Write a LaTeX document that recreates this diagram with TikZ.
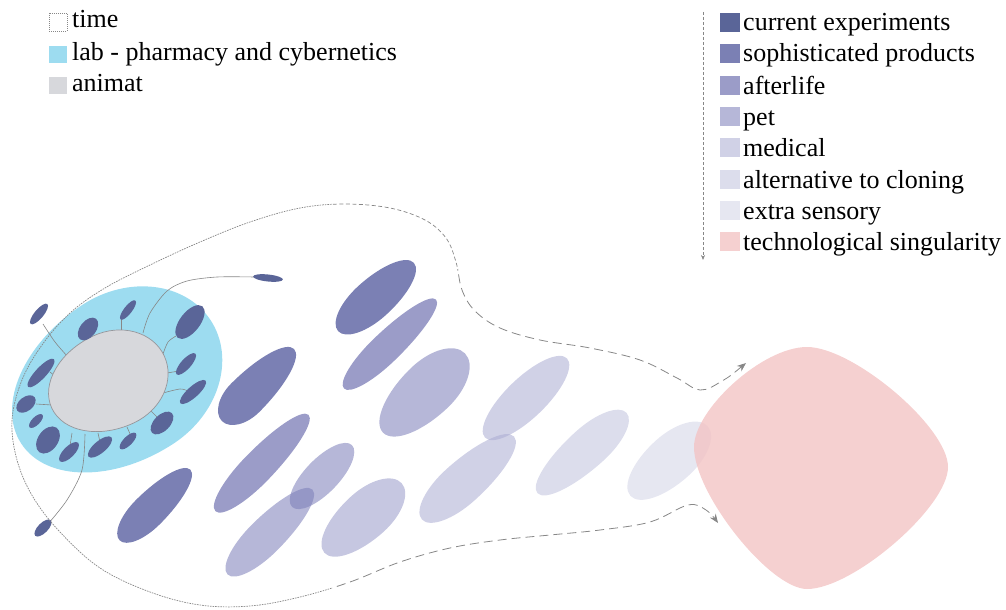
\documentclass[tikz,border=0pt]{standalone}
\usepackage{fontspec}
\setmainfont{Liberation Serif}
\usetikzlibrary{arrows.meta}
\definecolor{cCur}{RGB}{90,101,152}
\definecolor{cSophB}{RGB}{15,24,119}
\definecolor{cAftB}{RGB}{73,75,155}
\definecolor{cPetB}{RGB}{122,124,184}
\definecolor{cPetTwoB}{RGB}{151,153,200}
\definecolor{cMedB}{RGB}{170,171,210}
\definecolor{cAltB}{RGB}{191,193,220}
\definecolor{cExtB}{RGB}{210,211,230}
\definecolor{cTechB}{RGB}{243,196,196}
\definecolor{cLab}{RGB}{157,220,240}
\definecolor{cAnimat}{RGB}{215,216,220}
\definecolor{cAnimatLine}{RGB}{150,150,155}
\definecolor{cLine}{RGB}{135,135,135}
\tikzset{
  stCur/.style={fill=cCur},
  stSoph/.style={fill=cSophB, fill opacity=0.55},
  stAft/.style={fill=cAftB, fill opacity=0.55},
  stPet/.style={fill=cPetB, fill opacity=0.55},
  stPetTwo/.style={fill=cPetTwoB, fill opacity=0.55},
  stMed/.style={fill=cMedB, fill opacity=0.55},
  stAlt/.style={fill=cAltB, fill opacity=0.55},
  stExt/.style={fill=cExtB, fill opacity=0.55},
  stTech/.style={fill=cTechB, fill opacity=0.8},
  stLab/.style={fill=cLab},
  stAnimat/.style={fill=cAnimat, draw=cAnimatLine, line width=0.7pt},
  legtext/.style={inner sep=0pt, anchor=base west, font=\fontsize{26}{30}\selectfont},
  conn/.style={draw=cLine, line width=0.6pt},
  timefine/.style={draw=cLine, line width=0.7pt, dash pattern=on 1.6pt off 1pt},
  timemid/.style={draw=cLine, line width=0.7pt, dash pattern=on 4pt off 2.5pt},
  timelong/.style={draw=cLine, line width=0.8pt, dash pattern=on 9pt off 5pt},
  timetips/.style={{Stealth[length=9pt,width=7pt]}-{Stealth[length=9pt,width=7pt]}},
  legarrow/.style={draw=cLine, line width=0.6pt, dash pattern=on 3pt off 2pt, -{Stealth[length=5pt,width=4pt]}},
  timebox/.style={draw=cLine, line width=0.5pt, dash pattern=on 1pt off 1pt, fill=white}
}
% egg path in local coordinates: half length a, half width h, offset m of widest point
\newcommand{\eggpath}[3]{%
   (-#1,0) .. controls (-#1,0.552*#2) and ({#3-0.552*(#3+#1)},#2) .. (#3,#2)
   .. controls ({#3+0.552*(#1-#3)},#2) and (#1,0.552*#2) .. (#1,0)
   .. controls (#1,-0.552*#2) and ({#3+0.552*(#1-#3)},-#2) .. (#3,-#2)
   .. controls ({#3-0.552*(#3+#1)},-#2) and (-#1,-0.552*#2) .. (-#1,0) -- cycle}
% blob: style, cx, cy (pixel, downwards), angle, a, h, m
\newcommand{\blobshape}[7]{%
  \fill[#1, shift={(#2,-#3)}, rotate=#4] \eggpath{#5}{#6}{#7};}
\newcommand{\ovalcell}[5]{%
  \fill[stCur, shift={(#1,-#2)}, rotate=#3] (0,0) ellipse [x radius=#4pt, y radius=#5pt];}
% the time outline, one continuous curve
\newcommand{\timeoutline}{plot[smooth, tension=0.6] coordinates {(746,-363) (722,-381) (700,-390) (677,-378) (640,-360) (590,-348) (540,-340) (500,-328) (475,-311) (462,-290) (456,-262) (446,-238) (425,-220) (390,-208) (345,-204) (300,-208) (250,-222) (200,-242) (150,-265) (105,-288) (70,-313) (42,-345) (22,-380) (12,-420) (17,-460) (33,-497) (60,-532) (100,-568) (150,-592) (200,-605) (250,-606) (300,-597) (350,-582) (400,-562) (450,-548) (500,-540) (550,-535) (600,-530) (650,-522) (688,-505) (706,-510) (718,-523)}}
\begin{document}
\begin{tikzpicture}[x=1pt,y=1pt]
\useasboundingbox (0,0) rectangle (1006,-610);

% ---------- legend left
\draw[timebox] (49,-13) rectangle (67,-31);
\node[legtext] (lTime) at (72,-28) {time};
\fill[stLab] (49,-46) rectangle (67,-63);
\node[legtext] (lLab) at (72,-60) {lab - pharmacy and cybernetics};
\fill[stAnimat, draw=none] (49,-77) rectangle (67,-94);
\node[legtext] (lAnimat) at (72,-92) {animat};

% ---------- legend right
\draw[legarrow] (703,-12) -- (703,-260);
\fill[stCur]    (720,-13)  rectangle (740,-32);
\fill[stSoph]   (720,-44)  rectangle (740,-63);
\fill[stAft]    (720,-76)  rectangle (740,-95);
\fill[stPet]    (720,-107) rectangle (740,-126);
\fill[stMed]    (720,-138) rectangle (740,-157);
\fill[stAlt]    (720,-170) rectangle (740,-189);
\fill[stExt]    (720,-201) rectangle (740,-220);
\fill[stTech]   (720,-232) rectangle (740,-251);
\node[legtext] (lCur)  at (743,-31)  {current experiments};
\node[legtext] (lSoph) at (743,-62)  {sophisticated products};
\node[legtext] (lAft)  at (743,-94)  {afterlife};
\node[legtext] (lPet)  at (743,-125) {pet};
\node[legtext] (lMed)  at (743,-156) {medical};
\node[legtext] (lAlt)  at (743,-188) {alternative to cloning};
\node[legtext] (lExt)  at (743,-219) {extra sensory};
\node[legtext] (lTech) at (743,-250) {technological singularity};

% ---------- lab
\fill[stLab, shift={(116,-382)}, rotate=33] \eggpath{113}{83}{14};

% connectors from the animat
\draw[conn] plot[smooth] coordinates {(43,-324) (55,-342) (68,-357)};
\draw[conn] (96,-336) -- (101,-339);
\draw[conn] (121,-318) -- (121,-333);
\draw[conn] plot[smooth] coordinates {(176,-336) (168,-342) (163,-354)};
\draw[conn] plot[smooth] coordinates {(143,-333) (150,-313) (167,-291) (187,-281) (217,-277) (254,-277)};
\draw[conn] (167,-373) -- (179,-371);
\draw[conn] plot[smooth] coordinates {(163,-393) (180,-389) (188,-391)};
\draw[conn] (150,-410) -- (158,-418);
\draw[conn] (127,-427) -- (131,-436);
\draw[conn] (98,-433) -- (100,-442);
\draw[conn] (72,-433) -- (70,-446);
\draw[conn] (52,-405) -- (36,-404);
\draw[conn] (50,-372) -- (56,-377);
\draw[conn] plot[smooth] coordinates {(85,-434) (82,-470) (67,-500) (48,-524)};

% ---------- animat
\filldraw[stAnimat, shift={(108,-382)}, rotate=25] \eggpath{62}{48}{6};

% small experiment cells
\ovalcell{39}{314}{50}{13}{4.5}
\ovalcell{88}{329}{52}{13}{8}
\ovalcell{128}{310}{52}{12}{4}
\ovalcell{190}{322}{52}{20}{10}
\ovalcell{41}{373}{47}{19}{5.5}
\ovalcell{26}{404}{38}{11}{7}
\ovalcell{36}{421}{45}{9}{4}
\ovalcell{48}{440}{55}{15}{10}
\ovalcell{69}{452}{45}{13}{5.5}
\ovalcell{100}{447}{40}{15}{6}
\ovalcell{128}{441}{45}{11}{4.5}
\ovalcell{162}{423}{45}{14}{8}
\ovalcell{193}{392}{42}{17}{5.5}
\ovalcell{186}{364}{48}{14}{5}
\ovalcell{43}{528}{45}{11}{5}
\ovalcell{268}{278}{-6}{15}{3.5}

% ---------- time outline (dash lengths grow from left to right)
\begin{scope}
  \clip (0,0) rectangle (332,-610);
  \draw[timefine] \timeoutline;
\end{scope}
\begin{scope}
  \clip (332,0) rectangle (458,-270);
  \draw[timemid] \timeoutline;
\end{scope}
\begin{scope}
  \clip (458,0) rectangle (1006,-610) (332,-270) rectangle (458,-610);
  \draw[timelong, timetips] \timeoutline;
\end{scope}

% ---------- product blobs
\blobshape{stSoph}{376}{297}{42}{51}{20}{-5}
\blobshape{stSoph}{258}{385}{45}{51}{20}{-18}
\blobshape{stSoph}{155}{505}{45}{50}{17}{-10}
\blobshape{stAft}{390}{344}{44}{64}{15}{-8}
\blobshape{stAft}{262}{463}{46}{67}{16}{-8}
\blobshape{stPet}{424}{393}{44}{57}{27}{8}
\blobshape{stPet}{270}{532}{45}{60}{18}{-8}
\blobshape{stPet}{322}{476}{46}{43}{17}{0}
\blobshape{stPetTwo}{363}{518}{42}{52}{24}{6}
\blobshape{stMed}{468}{478}{42}{62}{21}{-10}
\blobshape{stMed}{526}{398}{44}{57}{20}{0}
\blobshape{stAlt}{582}{453}{42}{60}{20}{10}
\blobshape{stExt}{669}{461}{42}{52}{24}{4}

% ---------- singularity
\fill[stTech] (807,-347) .. controls (853,-347) and (948,-427) .. (948,-467)
  .. controls (948,-507) and (853,-589) .. (807,-589)
  .. controls (770,-589) and (694,-494) .. (694,-447)
  .. controls (694,-410) and (762,-347) .. (807,-347) -- cycle;
\end{tikzpicture}
\end{document}
